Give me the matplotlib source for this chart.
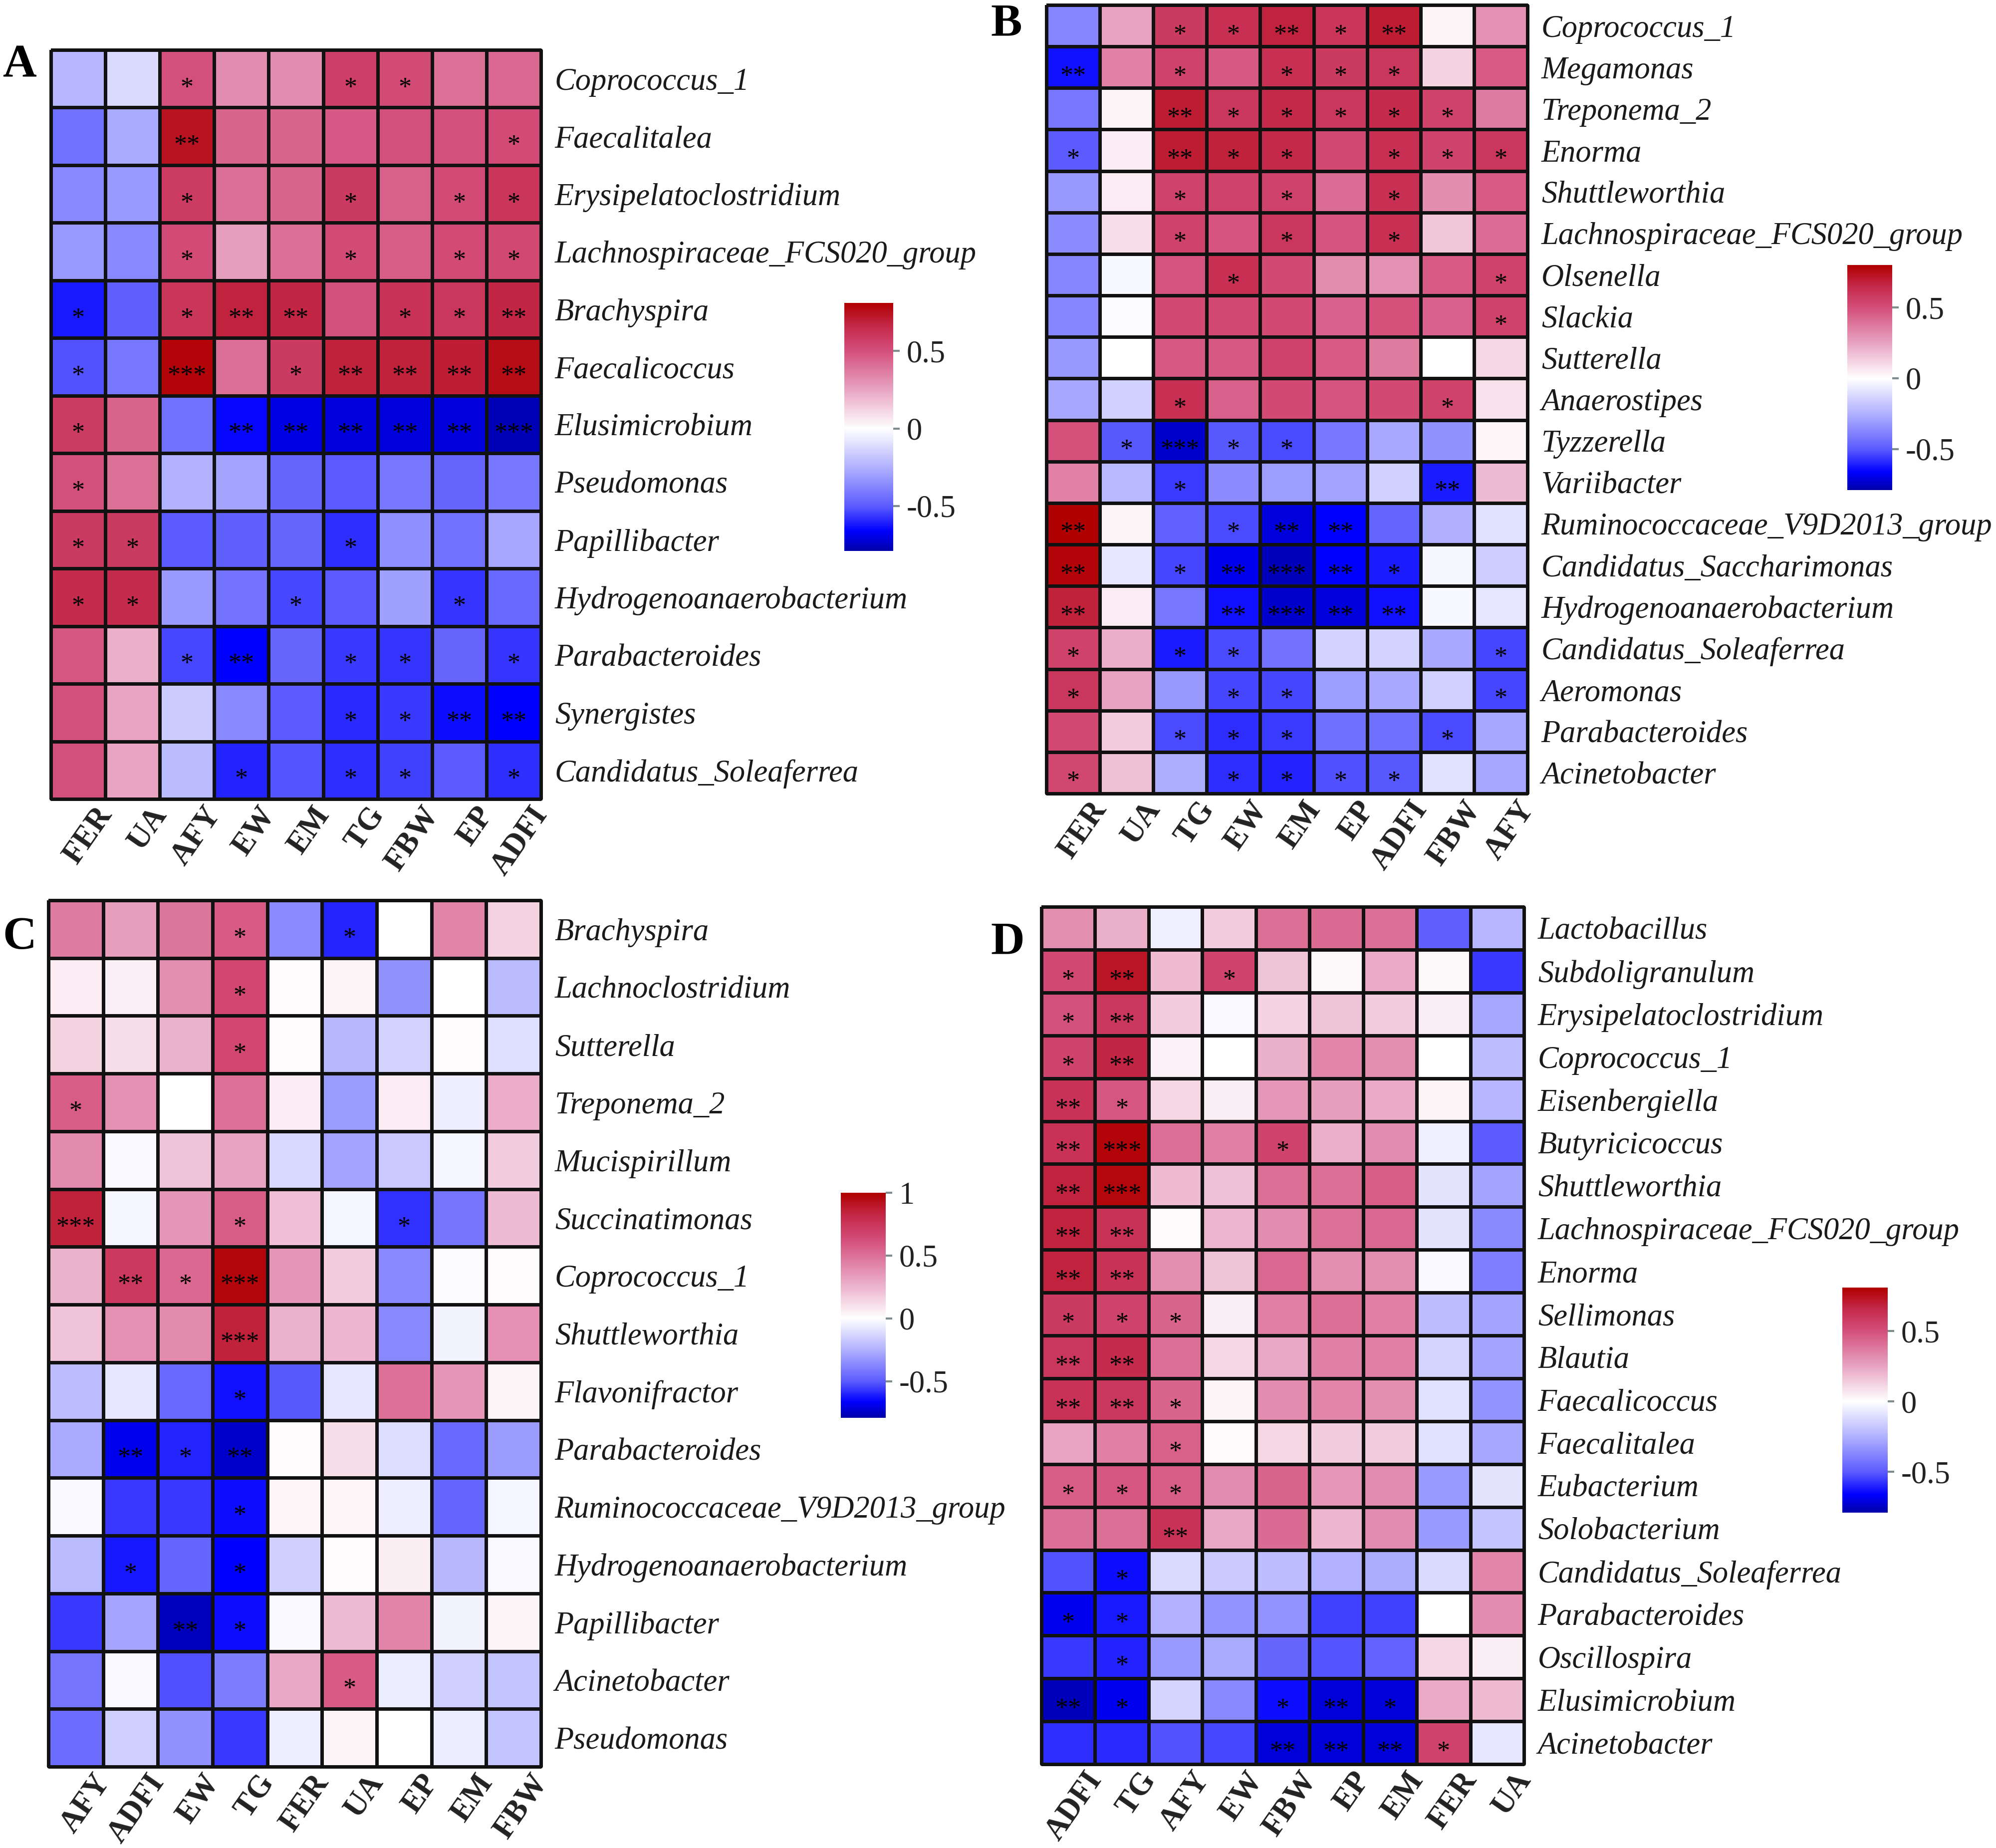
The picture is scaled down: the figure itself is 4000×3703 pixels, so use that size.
import matplotlib
matplotlib.use("Agg")
import matplotlib.pyplot as plt
from matplotlib.colors import LinearSegmentedColormap, Normalize
from matplotlib.cm import ScalarMappable

plt.rcParams["font.family"] = ["Liberation Serif", "DejaVu Serif"]

# ---------------- data ----------------
a_rows = ["Coprococcus_1", "Faecalitalea", "Erysipelatoclostridium", "Lachnospiraceae_FCS020_group",
          "Brachyspira", "Faecalicoccus", "Elusimicrobium", "Pseudomonas", "Papillibacter",
          "Hydrogenoanaerobacterium", "Parabacteroides", "Synergistes", "Candidatus_Soleaferrea"]
a_cols = ["FER", "UA", "AFY", "EW", "EM", "TG", "FBW", "EP", "ADFI"]
a_vals = [
    [-0.23, -0.12, 0.50, 0.32, 0.32, 0.57, 0.52, 0.40, 0.43],
    [-0.44, -0.27, 0.74, 0.44, 0.44, 0.47, 0.50, 0.50, 0.52],
    [-0.37, -0.32, 0.58, 0.41, 0.44, 0.59, 0.45, 0.52, 0.61],
    [-0.32, -0.37, 0.52, 0.27, 0.41, 0.52, 0.46, 0.52, 0.53],
    [-0.62, -0.49, 0.61, 0.68, 0.67, 0.50, 0.62, 0.60, 0.67],
    [-0.52, -0.42, 0.79, 0.41, 0.59, 0.69, 0.69, 0.70, 0.76],
    [0.58, 0.44, -0.44, -0.65, -0.70, -0.71, -0.71, -0.71, -0.77],
    [0.50, 0.40, -0.25, -0.29, -0.47, -0.50, -0.42, -0.47, -0.42],
    [0.59, 0.59, -0.50, -0.49, -0.47, -0.58, -0.35, -0.44, -0.28],
    [0.65, 0.65, -0.31, -0.43, -0.54, -0.50, -0.30, -0.57, -0.46],
    [0.48, 0.22, -0.54, -0.66, -0.47, -0.56, -0.57, -0.47, -0.57],
    [0.50, 0.25, -0.16, -0.37, -0.50, -0.59, -0.56, -0.64, -0.66],
    [0.50, 0.25, -0.22, -0.60, -0.51, -0.58, -0.55, -0.50, -0.58],
]
a_sig = [
    [0, 0, 1, 0, 0, 1, 1, 0, 0],
    [0, 0, 2, 0, 0, 0, 0, 0, 1],
    [0, 0, 1, 0, 0, 1, 0, 1, 1],
    [0, 0, 1, 0, 0, 1, 0, 1, 1],
    [1, 0, 1, 2, 2, 0, 1, 1, 2],
    [1, 0, 3, 0, 1, 2, 2, 2, 2],
    [1, 0, 0, 2, 2, 2, 2, 2, 3],
    [1, 0, 0, 0, 0, 0, 0, 0, 0],
    [1, 1, 0, 0, 0, 1, 0, 0, 0],
    [1, 1, 0, 0, 1, 0, 0, 1, 0],
    [0, 0, 1, 2, 0, 1, 1, 0, 1],
    [0, 0, 0, 0, 0, 1, 1, 2, 2],
    [0, 0, 0, 1, 0, 1, 1, 0, 1],
]

b_rows = ["Coprococcus_1", "Megamonas", "Treponema_2", "Enorma", "Shuttleworthia",
          "Lachnospiraceae_FCS020_group", "Olsenella", "Slackia", "Sutterella", "Anaerostipes",
          "Tyzzerella", "Variibacter", "Ruminococcaceae_V9D2013_group", "Candidatus_Saccharimonas",
          "Hydrogenoanaerobacterium", "Candidatus_Soleaferrea", "Aeromonas", "Parabacteroides",
          "Acinetobacter"]
b_cols = ["FER", "UA", "TG", "EW", "EM", "EP", "ADFI", "FBW", "AFY"]
b_vals = [
    [-0.38, 0.25, 0.58, 0.62, 0.67, 0.60, 0.70, 0.03, 0.30],
    [-0.63, 0.35, 0.55, 0.47, 0.62, 0.58, 0.59, 0.12, 0.46],
    [-0.42, 0.03, 0.70, 0.59, 0.65, 0.59, 0.64, 0.55, 0.37],
    [-0.50, 0.05, 0.70, 0.68, 0.65, 0.52, 0.62, 0.54, 0.59],
    [-0.32, 0.05, 0.55, 0.55, 0.55, 0.41, 0.62, 0.31, 0.46],
    [-0.36, 0.09, 0.55, 0.48, 0.59, 0.48, 0.62, 0.16, 0.41],
    [-0.38, -0.02, 0.48, 0.62, 0.52, 0.32, 0.30, 0.46, 0.55],
    [-0.38, -0.01, 0.52, 0.52, 0.52, 0.44, 0.50, 0.44, 0.55],
    [-0.32, 0.00, 0.47, 0.47, 0.55, 0.46, 0.36, 0.00, 0.11],
    [-0.28, -0.15, 0.62, 0.44, 0.52, 0.48, 0.52, 0.55, 0.08],
    [0.50, -0.51, -0.74, -0.51, -0.53, -0.42, -0.27, -0.34, 0.02],
    [0.35, -0.22, -0.56, -0.36, -0.31, -0.29, -0.15, -0.61, 0.18],
    [0.79, 0.03, -0.48, -0.53, -0.71, -0.66, -0.47, -0.25, -0.10],
    [0.78, -0.08, -0.54, -0.69, -0.76, -0.66, -0.61, -0.03, -0.16],
    [0.68, 0.05, -0.42, -0.63, -0.74, -0.71, -0.63, -0.02, -0.08],
    [0.55, 0.22, -0.61, -0.53, -0.43, -0.14, -0.14, -0.27, -0.54],
    [0.59, 0.25, -0.32, -0.54, -0.54, -0.31, -0.27, -0.15, -0.54],
    [0.52, 0.14, -0.53, -0.58, -0.56, -0.44, -0.44, -0.53, -0.28],
    [0.53, 0.17, -0.26, -0.58, -0.60, -0.52, -0.51, -0.10, -0.28],
]
b_sig = [
    [0, 0, 1, 1, 2, 1, 2, 0, 0],
    [2, 0, 1, 0, 1, 1, 1, 0, 0],
    [0, 0, 2, 1, 1, 1, 1, 1, 0],
    [1, 0, 2, 1, 1, 0, 1, 1, 1],
    [0, 0, 1, 0, 1, 0, 1, 0, 0],
    [0, 0, 1, 0, 1, 0, 1, 0, 0],
    [0, 0, 0, 1, 0, 0, 0, 0, 1],
    [0, 0, 0, 0, 0, 0, 0, 0, 1],
    [0, 0, 0, 0, 0, 0, 0, 0, 0],
    [0, 0, 1, 0, 0, 0, 0, 1, 0],
    [0, 1, 3, 1, 1, 0, 0, 0, 0],
    [0, 0, 1, 0, 0, 0, 0, 2, 0],
    [2, 0, 0, 1, 2, 2, 0, 0, 0],
    [2, 0, 1, 2, 3, 2, 1, 0, 0],
    [2, 0, 0, 2, 3, 2, 2, 0, 0],
    [1, 0, 1, 1, 0, 0, 0, 0, 1],
    [1, 0, 0, 1, 1, 0, 0, 0, 1],
    [0, 0, 1, 1, 1, 0, 0, 1, 0],
    [1, 0, 0, 1, 1, 1, 1, 0, 0],
]

c_rows = ["Brachyspira", "Lachnoclostridium", "Sutterella", "Treponema_2", "Mucispirillum",
          "Succinatimonas", "Coprococcus_1", "Shuttleworthia", "Flavonifractor", "Parabacteroides",
          "Ruminococcaceae_V9D2013_group", "Hydrogenoanaerobacterium", "Papillibacter",
          "Acinetobacter", "Pseudomonas"]
c_cols = ["AFY", "ADFI", "EW", "TG", "FER", "UA", "EP", "EM", "FBW"]
c_vals = [
    [0.46, 0.33, 0.48, 0.58, -0.36, -0.60, 0.00, 0.42, 0.15],
    [0.07, 0.05, 0.39, 0.66, 0.01, 0.04, -0.34, 0.00, -0.22],
    [0.15, 0.11, 0.26, 0.66, 0.01, -0.23, -0.14, 0.01, -0.10],
    [0.57, 0.38, 0.00, 0.50, 0.07, -0.31, 0.07, -0.05, 0.28],
    [0.40, -0.02, 0.20, 0.31, -0.12, -0.29, -0.17, -0.03, 0.17],
    [0.85, -0.03, 0.36, 0.57, 0.21, -0.03, -0.58, -0.42, 0.23],
    [0.26, 0.73, 0.53, 0.97, 0.36, 0.17, -0.37, -0.01, 0.01],
    [0.20, 0.38, 0.40, 0.85, 0.26, 0.25, -0.37, -0.04, 0.38],
    [-0.21, -0.08, -0.46, -0.63, -0.51, -0.08, 0.50, 0.36, 0.04],
    [-0.27, -0.69, -0.60, -0.74, 0.01, 0.11, -0.11, -0.46, -0.31],
    [-0.02, -0.56, -0.56, -0.64, 0.03, 0.03, -0.05, -0.47, -0.03],
    [-0.22, -0.62, -0.47, -0.66, -0.15, 0.01, 0.06, -0.23, -0.02],
    [-0.56, -0.28, -0.76, -0.64, -0.02, 0.23, 0.42, -0.04, 0.04],
    [-0.42, -0.02, -0.52, -0.40, 0.30, 0.58, -0.06, -0.16, -0.19],
    [-0.45, -0.16, -0.34, -0.56, -0.05, 0.04, 0.00, -0.06, -0.19],
]
c_sig = [
    [0, 0, 0, 1, 0, 1, 0, 0, 0],
    [0, 0, 0, 1, 0, 0, 0, 0, 0],
    [0, 0, 0, 1, 0, 0, 0, 0, 0],
    [1, 0, 0, 0, 0, 0, 0, 0, 0],
    [0, 0, 0, 0, 0, 0, 0, 0, 0],
    [3, 0, 0, 1, 0, 0, 1, 0, 0],
    [0, 2, 1, 3, 0, 0, 0, 0, 0],
    [0, 0, 0, 3, 0, 0, 0, 0, 0],
    [0, 0, 0, 1, 0, 0, 0, 0, 0],
    [0, 2, 1, 2, 0, 0, 0, 0, 0],
    [0, 0, 0, 1, 0, 0, 0, 0, 0],
    [0, 1, 0, 1, 0, 0, 0, 0, 0],
    [0, 0, 2, 1, 0, 0, 0, 0, 0],
    [0, 0, 0, 0, 0, 1, 0, 0, 0],
    [0, 0, 0, 0, 0, 0, 0, 0, 0],
]

d_rows = ["Lactobacillus", "Subdoligranulum", "Erysipelatoclostridium", "Coprococcus_1",
          "Eisenbergiella", "Butyricicoccus", "Shuttleworthia", "Lachnospiraceae_FCS020_group",
          "Enorma", "Sellimonas", "Blautia", "Faecalicoccus", "Faecalitalea", "Eubacterium",
          "Solobacterium", "Candidatus_Soleaferrea", "Parabacteroides", "Oscillospira",
          "Elusimicrobium", "Acinetobacter"]
d_cols = ["ADFI", "TG", "AFY", "EW", "FBW", "EP", "EM", "FER", "UA"]
d_vals = [
    [0.31, 0.21, -0.05, 0.14, 0.41, 0.42, 0.41, -0.49, -0.23],
    [0.53, 0.73, 0.19, 0.55, 0.16, 0.02, 0.23, 0.02, -0.56],
    [0.50, 0.60, 0.14, -0.02, 0.12, 0.16, 0.14, 0.05, -0.28],
    [0.55, 0.67, 0.04, 0.00, 0.21, 0.34, 0.31, 0.00, -0.21],
    [0.62, 0.48, 0.11, 0.05, 0.29, 0.27, 0.23, 0.03, -0.23],
    [0.62, 0.79, 0.41, 0.36, 0.55, 0.22, 0.32, -0.05, -0.50],
    [0.68, 0.78, 0.19, 0.17, 0.41, 0.41, 0.46, -0.09, -0.29],
    [0.68, 0.62, 0.01, 0.20, 0.32, 0.40, 0.43, -0.09, -0.36],
    [0.68, 0.62, 0.31, 0.16, 0.43, 0.31, 0.31, -0.02, -0.40],
    [0.59, 0.55, 0.44, 0.05, 0.36, 0.41, 0.36, -0.21, -0.29],
    [0.60, 0.65, 0.41, 0.11, 0.24, 0.36, 0.36, -0.14, -0.29],
    [0.62, 0.60, 0.44, 0.03, 0.32, 0.34, 0.31, -0.10, -0.34],
    [0.25, 0.36, 0.45, 0.01, 0.11, 0.14, 0.14, -0.10, -0.28],
    [0.46, 0.48, 0.46, 0.32, 0.44, 0.29, 0.32, -0.31, -0.09],
    [0.41, 0.41, 0.62, 0.24, 0.42, 0.20, 0.32, -0.31, -0.19],
    [-0.52, -0.64, -0.12, -0.17, -0.21, -0.25, -0.26, -0.12, 0.34],
    [-0.69, -0.62, -0.25, -0.34, -0.34, -0.55, -0.55, 0.00, 0.32],
    [-0.56, -0.60, -0.32, -0.27, -0.47, -0.51, -0.48, 0.11, 0.05],
    [-0.76, -0.69, -0.14, -0.37, -0.64, -0.72, -0.72, 0.23, 0.19],
    [-0.58, -0.59, -0.52, -0.54, -0.72, -0.72, -0.72, 0.55, -0.08],
]
d_sig = [
    [0, 0, 0, 0, 0, 0, 0, 0, 0],
    [1, 2, 0, 1, 0, 0, 0, 0, 0],
    [1, 2, 0, 0, 0, 0, 0, 0, 0],
    [1, 2, 0, 0, 0, 0, 0, 0, 0],
    [2, 1, 0, 0, 0, 0, 0, 0, 0],
    [2, 3, 0, 0, 1, 0, 0, 0, 0],
    [2, 3, 0, 0, 0, 0, 0, 0, 0],
    [2, 2, 0, 0, 0, 0, 0, 0, 0],
    [2, 2, 0, 0, 0, 0, 0, 0, 0],
    [1, 1, 1, 0, 0, 0, 0, 0, 0],
    [2, 2, 0, 0, 0, 0, 0, 0, 0],
    [2, 2, 1, 0, 0, 0, 0, 0, 0],
    [0, 0, 1, 0, 0, 0, 0, 0, 0],
    [1, 1, 1, 0, 0, 0, 0, 0, 0],
    [0, 0, 2, 0, 0, 0, 0, 0, 0],
    [0, 1, 0, 0, 0, 0, 0, 0, 0],
    [1, 1, 0, 0, 0, 0, 0, 0, 0],
    [0, 1, 0, 0, 0, 0, 0, 0, 0],
    [2, 1, 0, 0, 1, 2, 1, 0, 0],
    [0, 0, 0, 0, 2, 2, 2, 1, 0],
]

# colour ramp: fractions of each side of zero
blue_nodes = [(0.0, "#FFFFFF"), (0.32, "#B0B0FF"), (0.64, "#5A5AFF"), (0.84, "#0000FF"), (1.0, "#0000AA")]
red_nodes = [(0.31, "#E8A4C2"), (0.62, "#D4507C"), (0.82, "#C42848"), (1.0, "#B00000")]

W, H = 4000, 3703


def box(l, t, r, b):
    return [l / W, 1 - b / H, (r - l) / W, (b - t) / H]


def make_cmap(vmin, vmax):
    span = vmax - vmin
    pts = [((t * vmin - vmin) / span, c) for t, c in reversed(blue_nodes)]
    pts += [((t * vmax - vmin) / span, c) for t, c in red_nodes]
    return LinearSegmentedColormap.from_list("cor", pts)


def panel(fig, hm, cb, rows, cols, vals, sig, vmin, vmax, ticks, letter, lpos):
    cmap = make_cmap(vmin, vmax)
    norm = Normalize(vmin, vmax)
    ax = fig.add_axes(box(*hm))
    mesh = ax.pcolormesh(vals, cmap=cmap, norm=norm, edgecolors="#111111", linewidth=1.5)
    mesh.set_clip_on(False)
    nr, nc = len(rows), len(cols)
    ax.set_xlim(0, nc)
    ax.set_ylim(nr, 0)
    for s in ax.spines.values():
        s.set_visible(False)
    ax.set_xticks([])
    ax.yaxis.tick_right()
    ax.set_yticks([i + 0.5 for i in range(nr)])
    ax.set_yticklabels(rows, fontstyle="italic", fontsize=18, color="#1a1a1a")
    ax.tick_params(axis="y", length=0, pad=8)
    for i in range(nr):
        for j in range(nc):
            if sig[i][j]:
                ax.annotate("*" * sig[i][j], (j + 0.5, i + 0.5), xytext=(0, -9.5),
                            textcoords="offset points", ha="center", va="baseline",
                            fontsize=15, color="black")
    for j, lab in enumerate(cols):
        ax.annotate(lab, (j + 0.8, nr), xytext=(0, -1.5), textcoords="offset points",
                    rotation=55, ha="right", va="top", rotation_mode="anchor",
                    fontsize=18, fontweight="bold", color="#222222", annotation_clip=False)
    cax = fig.add_axes(box(*cb))
    cbar = fig.colorbar(ScalarMappable(norm=norm, cmap=cmap), cax=cax, ticks=ticks)
    cbar.outline.set_visible(False)
    cbar.ax.set_yticklabels([f"{t:g}" for t in ticks])
    cbar.ax.tick_params(length=3.7, width=1.2, color="#7f8c8d", pad=4, labelsize=18,
                        labelcolor="#222222")
    fig.text(lpos[0] / W, 1 - lpos[1] / H, letter, fontsize=27, fontweight="bold",
             ha="left", va="top")


fig = plt.figure(figsize=(16, 14.812), dpi=250)

panel(fig, (102, 100, 1084, 1601), (1692, 607, 1790, 1104), a_rows, a_cols, a_vals, a_sig,
      -0.79, 0.81, [-0.5, 0, 0.5], "A", (5, 88))
panel(fig, (2097, 10, 3061, 1590), (3702, 531, 3792, 982), b_rows, b_cols, b_vals, b_sig,
      -0.79, 0.80, [-0.5, 0, 0.5], "B", (1985, 6))
panel(fig, (97, 1804, 1084, 3540), (1685, 2390, 1775, 2841), c_rows, c_cols, c_vals, c_sig,
      -0.79, 1.0, [-0.5, 0, 0.5, 1], "C", (5, 1836))
panel(fig, (2087, 1817, 3054, 3535), (3692, 2580, 3783, 3031), d_rows, d_cols, d_vals, d_sig,
      -0.79, 0.81, [-0.5, 0, 0.5], "D", (1985, 1846))

fig.savefig("out.png", dpi=250)
